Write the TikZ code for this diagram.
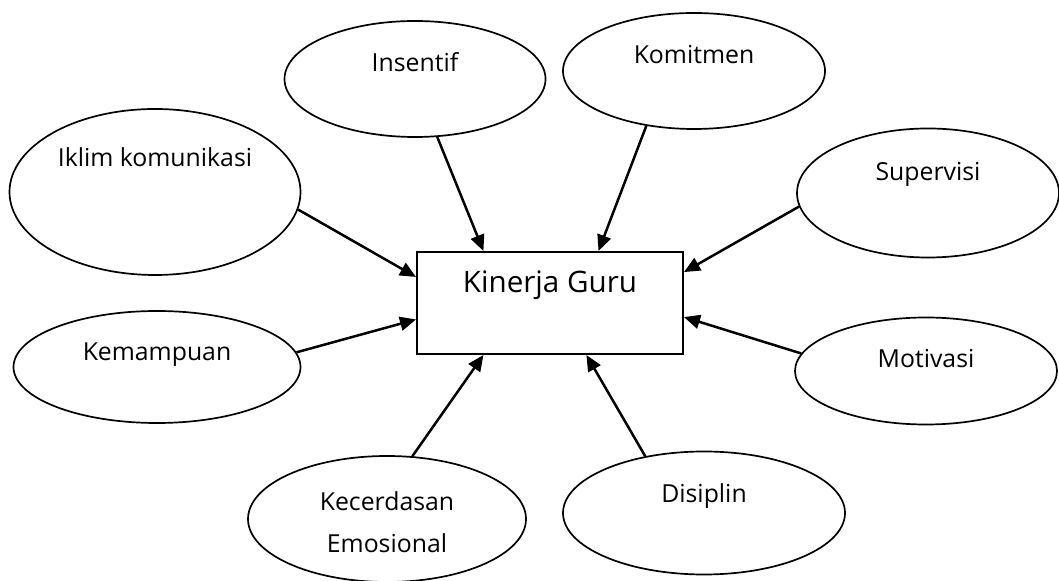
\documentclass[tikz,border=0pt]{standalone}
\usepackage{fontspec}
\setmainfont{Open Sans}
\usetikzlibrary{shapes.geometric, arrows.meta}
\tikzset{>={Triangle[length=8pt, width=7pt]}, % solid black arrow heads
factor/.style={ellipse, draw, line width=0.85pt, inner sep=0pt}, % the oval of each factor
label/.style={font=\fontsize{12.4}{20.8}\selectfont, align=center, inner sep=0pt, text height=9.5pt, text depth=3pt}, % text inside an oval
target/.style={rectangle, draw, line width=1pt, inner sep=0pt, minimum width=133pt, minimum height=51pt}, % the box in the middle
link/.style={->, line width=1.25pt}, % the arrows towards the box
}
\begin{document}
\begin{tikzpicture}[x=0.5pt, y=-0.5pt]
\useasboundingbox (0,0) rectangle (1059,581);

\node[target] (kg) at (550,303) {};
\node[label, font=\fontsize{14.8}{20}\selectfont, yshift=8.5pt] (kgtxt) at (kg) {Kinerja Guru};

% ovals, clockwise from the upper left
\node[factor, minimum width=145.5pt, minimum height=83pt] (ikl) at (155,192) {};
\node[factor, minimum width=130.5pt, minimum height=58pt] (ins) at (415,79) {};
\node[factor, minimum width=131pt, minimum height=58pt] (kom) at (694,71) {};
\node[factor, minimum width=131pt, minimum height=64.5pt] (sup) at (928,193) {};
\node[factor, minimum width=131pt, minimum height=53.5pt] (mot) at (926,371) {};
\node[factor, minimum width=141pt, minimum height=61.5pt] (dis) at (704,513) {};
\node[factor, minimum width=139pt, minimum height=63pt] (kec) at (387,519) {};
\node[factor, minimum width=143.5pt, minimum height=56pt] (kem) at (157,367) {};

\node[label, yshift=16pt] (ikltxt) at (ikl) {Iklim komunikasi};
\node[label, yshift=7pt] (instxt) at (ins) {Insentif};
\node[label, yshift=6.75pt] (komtxt) at (kom) {Komitmen};
\node[label, yshift=9.5pt] (suptxt) at (sup) {Supervisi};
\node[label, yshift=5pt] (mottxt) at (mot) {Motivasi};
\node[label, yshift=8.25pt] (distxt) at (dis) {Disiplin};
\node[label, text height=, text depth=, yshift=-1.5pt] (kectxt) at (kec) {Kecerdasan\\Emosional};
\node[label, yshift=6.5pt] (kemtxt) at (kem) {Kemampuan};

\draw
(ikl.-7) edge[link] (kg.169)
(ins.-69) edge[link] (kg.142)
(kom.-131) edge[link] (kg.47)
(sup.186) edge[link] (kg.13)
(mot.172) edge[link] (kg.-6)
(dis.136) edge[link] (kg.-55)
(kec.68) edge[link] (kg.-142)
(kem.6) edge[link] (kg.-173);

\end{tikzpicture}
\end{document}
